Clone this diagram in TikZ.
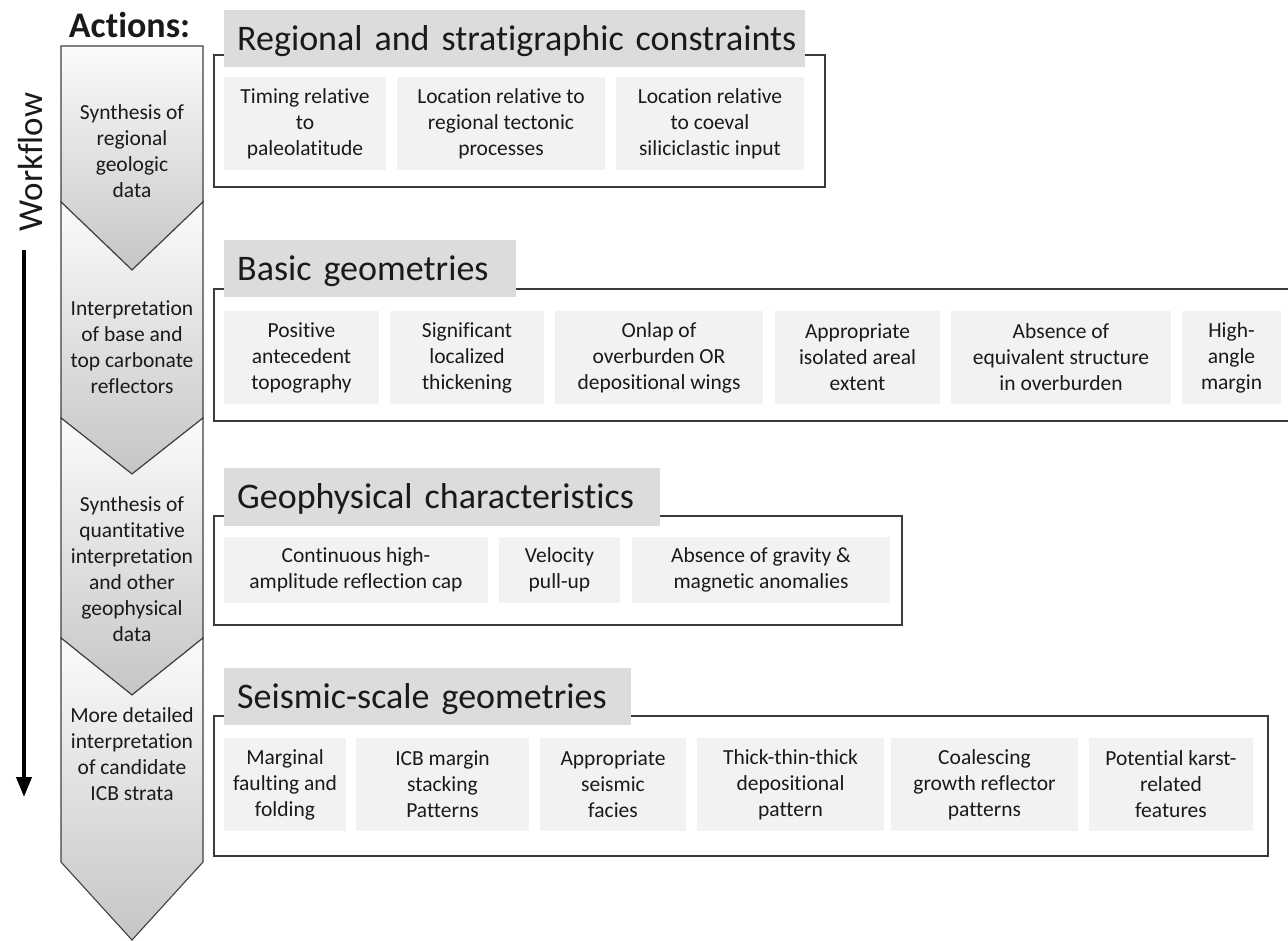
\documentclass[tikz,border=0pt]{standalone}
\usepackage{fontspec}
\setmainfont{Carlito}[Ligatures={NoCommon,NoRare,NoContextual}]
\usetikzlibrary{arrows.meta}
\definecolor{itemfill}{HTML}{F2F2F2}
\definecolor{titlefill}{HTML}{DCDCDC}
\definecolor{framecol}{HTML}{3A3A3A}
\definecolor{chevline}{HTML}{404040}
\definecolor{txt}{HTML}{1A1A1A}
\begin{document}
\begin{tikzpicture}[x=1pt,y=-1pt,
  item/.style={fill=itemfill, inner sep=0pt, align=center, text=txt, font=\fontsize{21.5}{26}\selectfont},
  ttl/.style={fill=titlefill, anchor=west, inner xsep=13pt, inner ysep=0pt, minimum height=57pt, text height=23.2pt, text depth=0pt, align=left, text=txt, font=\fontsize{36}{40}\selectfont},
  framebox/.style={draw=framecol, line width=1.3pt},
  chev/.style={draw=chevline, line width=1.1pt, top color=gray!3, bottom color=gray!45},
  segtxt/.style={align=center, text=txt, font=\fontsize{21.5}{26}\selectfont}]
\useasboundingbox (0,0) rectangle (1288,940);
\fill[white] (0,0) rectangle (1288,940);

% ---- left column ----
\node[font=\bfseries\fontsize{36}{40}\selectfont, text=txt] (act) at (129.5,25) {Actions:};
\node[rotate=90, font=\fontsize{35}{40}\selectfont, text=txt] (wf) at (30,162) {Workflow};
\coordinate (wtop) at (24,250);
\coordinate (wbot) at (24,797);
\draw[line width=4pt, -{Triangle[width=15pt,length=20pt]}] (wtop) -- (wbot);

\path[chev] (61,46) -- (203,46) -- (203,202) -- (132,270) -- (61,202) -- cycle;
\path[chev] (61,202) -- (132,270) -- (203,202) -- (203,418) -- (132,474) -- (61,418) -- cycle;
\path[chev] (61,418) -- (132,474) -- (203,418) -- (203,638) -- (132,695) -- (61,638) -- cycle;
\path[chev] (61,638) -- (132,695) -- (203,638) -- (203,862) -- (132,940) -- (61,862) -- cycle;

\node[segtxt] (a1) at (132,151.5) {Synthesis of\\regional\\geologic\\data};
\node[segtxt] (a2) at (132,347.5) {Interpretation\\of base and\\top carbonate\\reflectors};
\node[segtxt] (a3) at (132,569) {Synthesis of\\quantitative\\interpretation\\and other\\geophysical\\data};
\node[segtxt] (a4) at (132,754.5) {More detailed\\interpretation\\of candidate\\ICB strata};

% ---- panel 1 ----
\draw[framebox] (214,55) rectangle (825,187);
\node[ttl, text width=555pt] (p1) at (224,38.5) {\mbox{Regional and stratigraphic constraints}};
\node[item, minimum width=162pt, minimum height=93pt] (t1) at (305,123.5) {Timing relative\\to\\paleolatitude};
\node[item, minimum width=208pt, minimum height=93pt] (t2) at (501,123.5) {Location relative to\\regional tectonic\\processes};
\node[item, minimum width=188pt, minimum height=93pt] (t3) at (710,123.5) {Location relative\\to coeval\\siliciclastic input};

% ---- panel 2 ----
\draw[framebox] (214,289) rectangle (1310,421);
\node[ttl, text width=266pt] (p2) at (224,268.5) {Basic geometries};
\node[item, minimum width=155pt, minimum height=93pt] (b1) at (301.5,357.5) {Positive\\antecedent\\topography};
\node[item, minimum width=154pt, minimum height=93pt] (b2) at (467,357.5) {Significant\\localized\\thickening};
\node[item, minimum width=208pt, minimum height=93pt] (b3) at (659,357.5) {Onlap of\\overburden OR\\depositional wings};
\node[item, minimum width=165pt, minimum height=93pt] (b4) at (857.5,357.5) {Appropriate\\isolated areal\\extent};
\node[item, minimum width=220pt, minimum height=93pt] (b5) at (1061,357.5) {Absence of\\equivalent structure\\in overburden};
\node[item, minimum width=99pt, minimum height=93pt] (b6) at (1231.5,357.5) {High-\\angle\\margin};

% ---- panel 3 ----
\draw[framebox] (214,516) rectangle (902,625);
\node[ttl, text width=410pt, minimum height=58pt] (p3) at (224,497) {Geophysical characteristics};
\node[item, minimum width=264pt, minimum height=66pt] (g1) at (356,570) {Continuous high-\\amplitude reflection cap};
\node[item, minimum width=121pt, minimum height=66pt] (g2) at (559.5,570) {Velocity\\pull-up};
\node[item, minimum width=258pt, minimum height=66pt] (g3) at (761,570) {Absence of gravity \&\\magnetic anomalies};

% ---- panel 4 ----
\draw[framebox] (214,716) rectangle (1268,856);
\node[ttl, text width=381pt] (p4) at (224,696.5) {Seismic-scale geometries};
\node[item, minimum width=122pt, minimum height=93pt] (s1) at (285,784.5) {Marginal\\faulting and\\folding};
\node[item, minimum width=173pt, minimum height=93pt] (s2) at (442.5,784.5) {ICB margin\\stacking\\Patterns};
\node[item, minimum width=146pt, minimum height=93pt] (s3) at (613,784.5) {Appropriate\\seismic\\facies};
\node[item, minimum width=187pt, minimum height=93pt] (s4) at (790.5,784.5) {Thick-thin-thick\\depositional\\pattern};
\node[item, minimum width=187pt, minimum height=93pt] (s5) at (984.5,784.5) {Coalescing\\growth reflector\\patterns};
\node[item, minimum width=164pt, minimum height=93pt] (s6) at (1171,784.5) {Potential karst-\\related\\features};
\end{tikzpicture}
\end{document}
